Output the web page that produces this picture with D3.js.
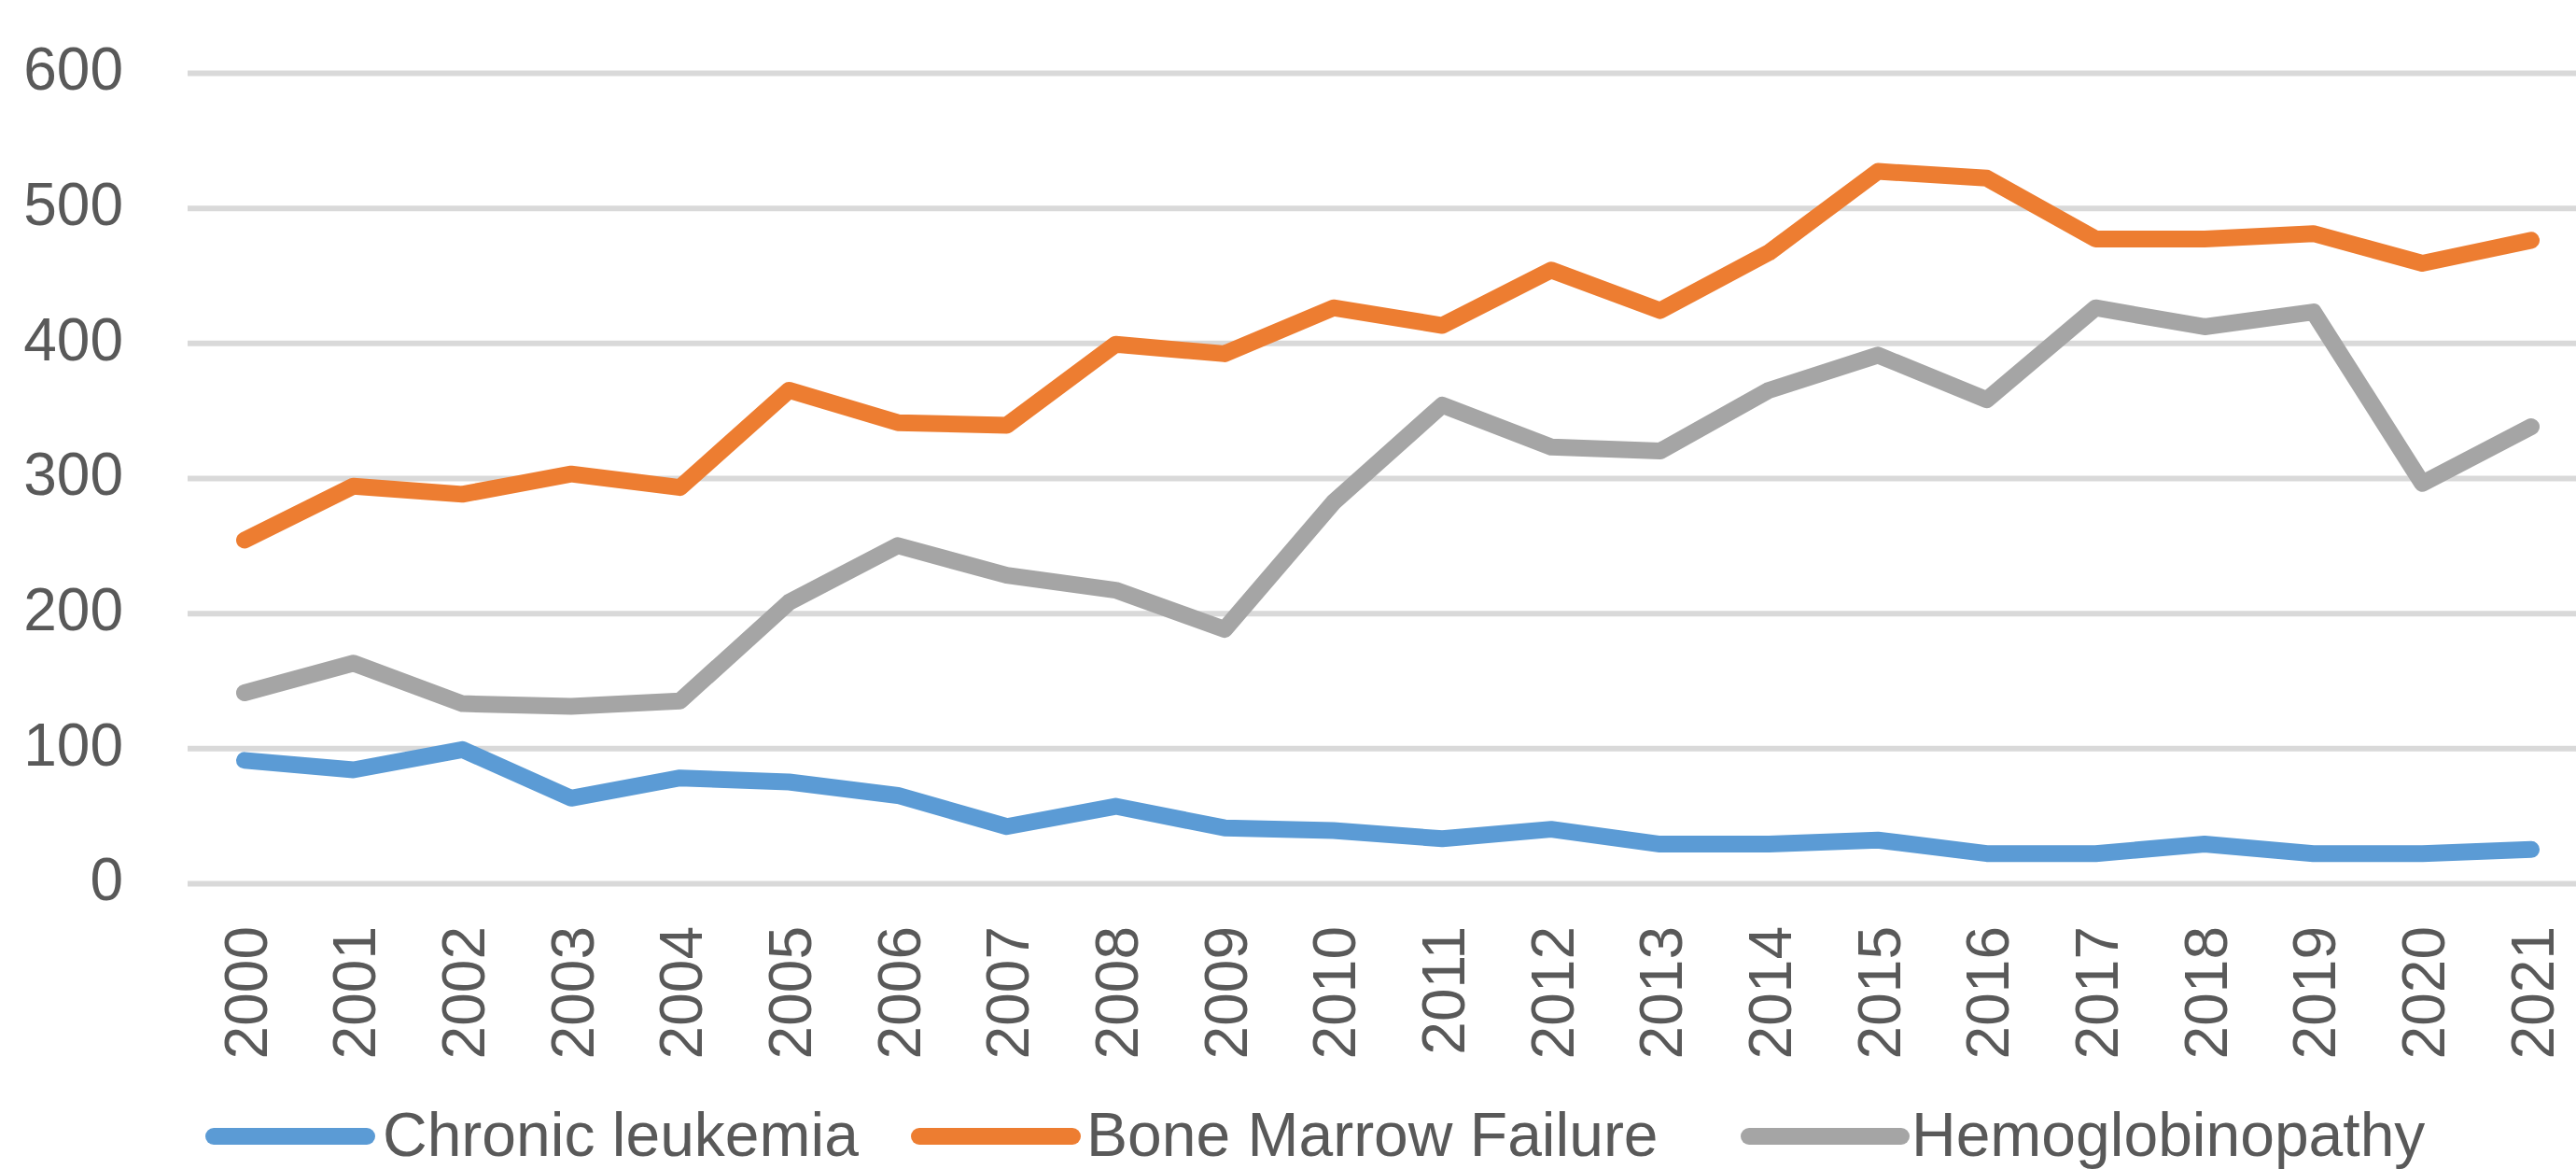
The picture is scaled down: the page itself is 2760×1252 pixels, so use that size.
<!DOCTYPE html>
<html>
<head>
<meta charset="utf-8">
<script src="https://cdn.jsdelivr.net/npm/d3@7"></script>
<style>
  html, body { margin: 0; padding: 0; background: #ffffff; }
  svg { display: block; }
  text { font-family: "Liberation Sans", Arial, sans-serif; fill: #595959; }
</style>
</head>
<body>
<svg id="chart" width="2760" height="1252"></svg>
<script>
const years = ["2000","2001","2002","2003","2004","2005","2006","2007","2008","2009","2010",
               "2011","2012","2013","2014","2015","2016","2017","2018","2019","2020","2021"];
const chronicLeukemia   = [91, 84, 99, 63, 78, 75, 65, 42, 57, 41, 39, 33, 40, 29, 29, 32, 22, 22, 29, 22, 22, 25];
const boneMarrowFailure = [254, 294, 288, 303, 293, 365, 341, 339, 399, 392, 426, 413, 454, 424, 467, 527, 522, 477, 477, 481, 459, 476];
const hemoglobinopathy  = [141, 163, 133, 131, 135, 208, 250, 228, 217, 188, 282, 354, 323, 320, 365, 391, 358, 426, 412, 423, 296, 338];
const yTicks = [0, 100, 200, 300, 400, 500, 600];
const seriesNames = ["Chronic leukemia", "Bone Marrow Failure", "Hemoglobinopathy"];
const seriesColors = ["#5B9BD5", "#ED7D31", "#A5A5A5"];

const series = [chronicLeukemia, boneMarrowFailure, hemoglobinopathy].map((vals, i) => ({
  name: seriesNames[i], color: seriesColors[i],
  values: vals.map((v, j) => ({ year: years[j], value: v }))
}));

const svg = d3.select("#chart");
const plotLeft = 201, plotRight = 2760;

const x = d3.scalePoint().domain(years).range([262, 2712]);
const y = d3.scaleLinear().domain([0, 600]).range([946, 78]);

// Y axis with gridlines
const yAxis = svg.append("g")
  .attr("transform", `translate(${plotLeft},0)`)
  .call(d3.axisLeft(y).tickValues(yTicks).tickSize(-(plotRight - plotLeft)).tickPadding(69));
yAxis.select(".domain").remove();
yAxis.selectAll(".tick line").attr("stroke", "#D9D9D9").attr("stroke-width", 6);
yAxis.selectAll(".tick text")
  .attr("font-size", 64)
  .attr("dy", "0.28em")
  .attr("fill", "#595959")
  .style("font-family", '"Liberation Sans", Arial, sans-serif');

// X axis labels (rotated)
const xAxis = svg.append("g")
  .attr("transform", `translate(0,${y(0)})`)
  .call(d3.axisBottom(x).tickSize(0));
xAxis.select(".domain").remove();
xAxis.selectAll(".tick text")
  .attr("font-size", 64)
  .attr("fill", "#595959")
  .style("font-family", '"Liberation Sans", Arial, sans-serif')
  .attr("text-anchor", "end")
  .attr("dy", null)
  .attr("x", -46)
  .attr("y", 23)
  .attr("transform", "rotate(-90)");

// Lines
const line = d3.line().x(d => x(d.year)).y(d => y(d.value));
svg.append("g").selectAll("path")
  .data(series)
  .join("path")
  .attr("d", d => line(d.values))
  .attr("fill", "none")
  .attr("stroke", d => d.color)
  .attr("stroke-width", 18)
  .attr("stroke-linejoin", "round")
  .attr("stroke-linecap", "round");

// Legend
const legendLineStart = [229, 985, 1874];
const legendLineEnd = [393, 1149, 2037];
const legendTextX = [410, 1164, 2048];
const legend = svg.append("g");
series.forEach((s, i) => {
  legend.append("line")
    .attr("x1", legendLineStart[i]).attr("x2", legendLineEnd[i])
    .attr("y1", 1217).attr("y2", 1217)
    .attr("stroke", s.color).attr("stroke-width", 18)
    .attr("stroke-linecap", "round");
  legend.append("text")
    .attr("x", legendTextX[i]).attr("y", 1238)
    .attr("font-size", 66)
    .text(s.name);
});
</script>
</body>
</html>
